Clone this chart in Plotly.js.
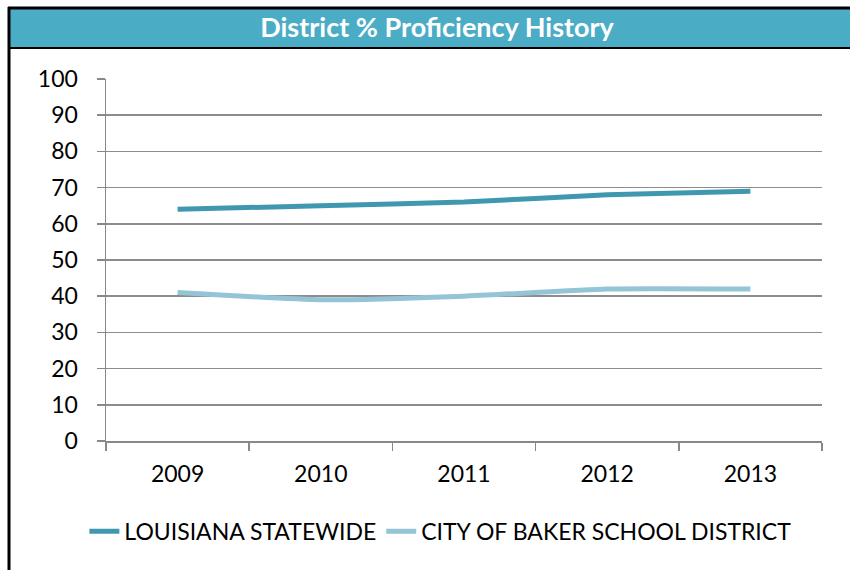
<!DOCTYPE html>
<html><head><meta charset="utf-8">
<script src="https://cdn.plot.ly/plotly-3.0.1.min.js"></script>
<style>body{margin:0;background:#fff}#chart{width:850px;height:570px}</style>
</head><body><div id="chart"></div>
<script>
const years = ['2009','2010','2011','2012','2013'];
const statewide = [64, 65, 66, 68, 69];
const baker = [41, 39, 40, 42, 42];
const seriesNames = ['LOUISIANA STATEWIDE', 'CITY OF BAKER SCHOOL DISTRICT'];
const yTicks = [0,10,20,30,40,50,60,70,80,90,100];

const FONT = 'Lato, "Open Sans", sans-serif';
const traces = [
  {x: years, y: statewide, name: seriesNames[0], type: 'scatter', mode: 'lines',
   line: {color: '#4098B0', width: 5, shape: 'spline', smoothing: 0.5}},
  {x: years, y: baker, name: seriesNames[1], type: 'scatter', mode: 'lines',
   line: {color: '#93C5D6', width: 5, shape: 'spline', smoothing: 0.5}}
];
const L = 106, R = 28, T = 79, B = 128.5, W = 850, H = 570;
const pw = W - L - R, ph = H - T - B;
const px = v => (v - L) / pw;
const py = v => (H - B - v) / ph;
const layout = {
  width: W, height: H,
  margin: {l: L, r: R, t: T, b: B},
  paper_bgcolor: '#fff', plot_bgcolor: '#fff',
  font: {family: FONT, size: 23, color: '#000'},
  title: {text: '<b>District % Proficiency History</b>', font: {family: FONT, size: 27, color: '#fff'},
          x: 437 / W, xref: 'container', xanchor: 'center', y: 1 - 28 / H, yref: 'container', yanchor: 'middle'},
  xaxis: {type: 'category', range: [-0.5, 4.5], tickson: 'boundaries', ticks: 'outside', ticklen: 8,
          tickcolor: '#888', tickwidth: 1.5, showline: true, linecolor: '#888', linewidth: 1.5,
          showgrid: false, zeroline: false, ticklabelstandoff: 12, fixedrange: true,
          tickfont: {family: FONT, size: 23}},
  yaxis: {range: [0, 100], tickvals: yTicks, ticks: 'outside', ticklen: 8, tickcolor: '#888', tickwidth: 1.5,
          showline: true, linecolor: '#888', linewidth: 1.5, showgrid: true, gridcolor: '#8c8c8c', gridwidth: 1.5,
          zeroline: false, ticklabelstandoff: 14, fixedrange: true, tickfont: {family: FONT, size: 23}},
  showlegend: true,
  legend: {orientation: 'h', x: 0.467, xanchor: 'center', y: py(532), yanchor: 'middle',
           font: {family: FONT, size: 23, color: '#000'}, itemwidth: 30, tracegroupgap: 0},
  shapes: [
    {type: 'rect', xref: 'paper', yref: 'paper', x0: px(9), x1: px(852), y0: py(48), y1: py(8),
     fillcolor: '#4BACC6', line: {width: 0}, layer: 'below'},
    {type: 'line', xref: 'paper', yref: 'paper', x0: px(8), x1: px(852), y0: py(8), y1: py(8),
     line: {color: '#000', width: 3}},
    {type: 'line', xref: 'paper', yref: 'paper', x0: px(8), x1: px(852), y0: py(48), y1: py(48),
     line: {color: '#000', width: 2}},
    {type: 'line', xref: 'paper', yref: 'paper', x0: px(9), x1: px(9), y0: py(7), y1: py(572),
     line: {color: '#000', width: 3}}
  ]
};
Plotly.newPlot('chart', traces, layout, {displayModeBar: false, staticPlot: true});
</script></body></html>
